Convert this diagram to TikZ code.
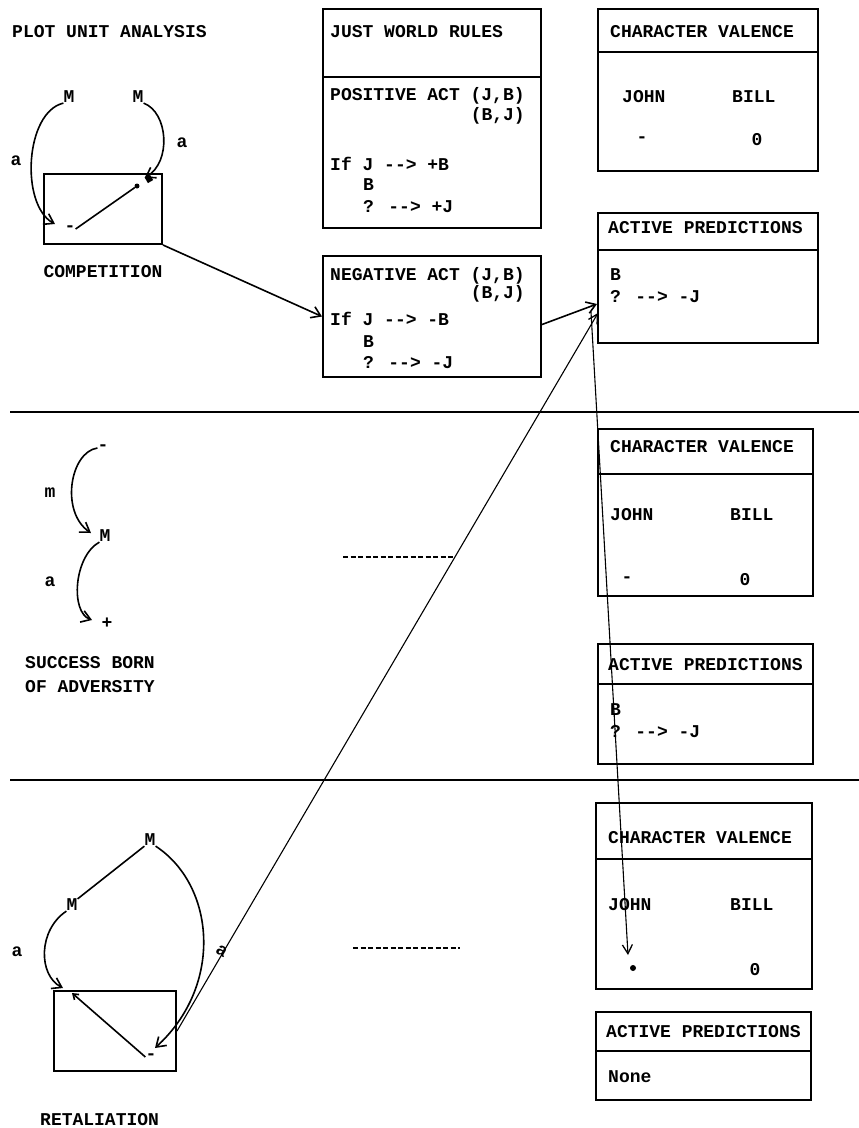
\documentclass[tikz,border=0pt]{standalone}
\usepackage{fontspec}
\newfontfamily\lmono{Liberation Mono}
\usetikzlibrary{arrows.meta}
\newcommand\myarr{{-}{-}>}
\newcommand\mydiv[2]{\draw[line width=2pt] ([yshift=-#2pt]#1.north west) -- ([yshift=-#2pt]#1.north east);}
\begin{document}
\begin{tikzpicture}[x=1pt,y=-1pt,
  box/.style={draw, line width=2pt, inner sep=0pt, anchor=north west},
  txt/.style={anchor=base west, inner sep=0pt, font=\lmono\bfseries\fontsize{18}{20}\selectfont},
  ctxt/.style={anchor=center, inner sep=0pt, font=\lmono\bfseries\fontsize{18}{20}\selectfont},
  conn/.style={line width=1.6pt, -{Straight Barb[length=9pt,width=12pt,line width=1.6pt]}},
  thinconn/.style={line width=1.1pt, -{Straight Barb[length=9pt,width=10pt,line width=1.3pt]}},
  lnk/.style={line width=1.6pt},
  sep/.style={line width=2pt},
  dsh/.style={line width=2pt, dash pattern=on 5pt off 2.5pt}]
\useasboundingbox (0,0) rectangle (859,1128);

% ---------- section separators ----------
\coordinate (s1a) at (10,412); \coordinate (s1b) at (859,412);
\coordinate (s2a) at (10,780); \coordinate (s2b) at (859,780);
\draw[sep] (s1a) -- (s1b);
\draw[sep] (s2a) -- (s2b);

% ---------- title ----------
\node[txt] (title) at (12,37) {PLOT UNIT ANALYSIS};

% ---------- competition ----------
\node[ctxt] (m1) at (69,97) {M};
\node[ctxt] (m2) at (138,97) {M};
\node[ctxt] (ca1) at (16,161) {a};
\node[ctxt] (ca2) at (182,143) {a};
\node[box, minimum width=118pt, minimum height=70pt] (comp) at (43,173) {};
\node[ctxt] (cmin) at (70,229) {-};
\node[fill, circle, inner sep=0pt, minimum size=5pt] (cdot) at (137,186) {};
\node[fill, inner sep=0pt, minimum size=6pt, rotate=30] (cplus) at (149,179) {};
\coordinate (cL) at (55,224);
\draw[conn] (m1.south west) .. controls (25,112) and (20,205) .. (cL);
\draw[conn] (m2.south east) .. controls (168,112) and (172,162) .. (cplus.north west);
\draw[lnk] (cmin.east) -- (cdot);
\node[ctxt] (comptxt) at (103,272) {COMPETITION};

% ---------- just world rules ----------
\node[box, minimum width=218pt, minimum height=219pt] (jwr) at (322,8) {};
\mydiv{jwr}{69}
\node[txt] (jwr1) at (330,37) {JUST WORLD RULES};
\node[txt] (jwr2) at (330,100) {POSITIVE ACT (J,B)};
\node[txt, anchor=base east] (jwr3) at (525,120) {(B,J)};
\node[txt] (jwr4) at (330,170) {If J \myarr{} +B};
\node[txt] (jwr5) at (363,190) {B};
\node[txt] (jwr6) at (363,212) {? \myarr{} +J};

\node[box, minimum width=218pt, minimum height=121pt] (neg) at (322,255) {};
\node[txt] (neg1) at (330,280) {NEGATIVE ACT (J,B)};
\node[txt, anchor=base east] (neg2) at (525,298) {(B,J)};
\node[txt] (neg3) at (330,325) {If J \myarr{} -B};
\node[txt] (neg4) at (363,347) {B};
\node[txt] (neg5) at (363,368) {? \myarr{} -J};

% ---------- first column of states ----------
\node[box, minimum width=220pt, minimum height=162pt] (cv1) at (597,8) {};
\mydiv{cv1}{44}
\node[txt] (cv1t) at (610,37) {CHARACTER VALENCE};
\node[txt] (cv1j) at (622,102) {JOHN};
\node[txt] (cv1b) at (732,102) {BILL};
\node[ctxt] (cv1jv) at (642,140) {-};
\node[ctxt] (cv1bv) at (757,140) {0};

\node[box, minimum width=220pt, minimum height=130pt] (ap1) at (597,212) {};
\mydiv{ap1}{38}
\node[txt] (ap1t) at (608,233) {ACTIVE PREDICTIONS};
\node[txt] (ap1a) at (610,280) {B};
\node[txt] (ap1b) at (610,302) {? \myarr{} -J};

% ---------- success born of adversity ----------
\node[ctxt] (sdash) at (103,448) {-};
\node[ctxt] (sm) at (50,493) {m};
\node[ctxt] (sM) at (105,536) {M};
\node[ctxt] (sa) at (50,582) {a};
\node[ctxt] (splus) at (107,623) {+};
\coordinate (sM_in) at (91,533);
\coordinate (sp_in) at (92,620);
\draw[conn] (sdash.west) .. controls (70,452) and (60,512) .. (sM_in);
\draw[conn] (sM.south west) .. controls (74,556) and (70,612) .. (sp_in);
\node[txt] (s1) at (25,668) {SUCCESS BORN};
\node[txt] (s2) at (25,692) {OF ADVERSITY};

\coordinate (d1a) at (343,557); \coordinate (d1b) at (453,557);
\draw[dsh] (d1a) -- (d1b);

\node[box, minimum width=215pt, minimum height=167pt] (cv2) at (597,428) {};
\mydiv{cv2}{46}
\node[txt] (cv2t) at (610,452) {CHARACTER VALENCE};
\node[txt] (cv2j) at (610,520) {JOHN};
\node[txt] (cv2b) at (730,520) {BILL};
\node[ctxt] (cv2jv) at (627,580) {-};
\node[ctxt] (cv2bv) at (745,580) {0};

\node[box, minimum width=215pt, minimum height=120pt] (ap2) at (597,643) {};
\mydiv{ap2}{41}
\node[txt] (ap2t) at (608,670) {ACTIVE PREDICTIONS};
\node[txt] (ap2a) at (610,715) {B};
\node[txt] (ap2b) at (610,737) {? \myarr{} -J};

% ---------- retaliation ----------
\node[ctxt] (rmt) at (150,840) {M};
\node[ctxt] (rml) at (72,905) {M};
\node[ctxt] (ra) at (17,952) {a};
\node[box, minimum width=122pt, minimum height=80pt] (ret) at (53,990) {};
\node[ctxt] (rmin) at (151,1057) {-};
\coordinate (rplus) at (72,993);
\coordinate (rL) at (63,988);
\coordinate (rM) at (155,1048);
\draw[lnk] (rmt.south west) -- (rml.north east);
\draw[conn] (rml.south west) .. controls (38,930) and (38,975) .. (rL);
\draw[conn] (rmt.south east) .. controls (215,885) and (224,985) .. (rM);
\draw[line width=1.6pt, -{Straight Barb[length=5pt,width=7pt]}] (rmin.west) -- (rplus);
\node[txt] (rtxt) at (40,1125) {RETALIATION};

\coordinate (d2a) at (353,948); \coordinate (d2b) at (460,948);
\draw[dsh] (d2a) -- (d2b);

\node[box, minimum width=216pt, minimum height=186pt] (cv3) at (595,802) {};
\mydiv{cv3}{57}
\node[txt] (cv3t) at (608,843) {CHARACTER VALENCE};
\node[txt] (cv3j) at (608,910) {JOHN};
\node[txt] (cv3b) at (730,910) {BILL};
\node[fill, circle, inner sep=0pt, minimum size=6pt] (cv3dot) at (633,968) {};
\node[ctxt] (cv3bv) at (755,970) {0};

\node[box, minimum width=215pt, minimum height=88pt] (ap3) at (595,1011) {};
\mydiv{ap3}{40}
\node[txt] (ap3t) at (606,1037) {ACTIVE PREDICTIONS};
\node[txt] (ap3a) at (608,1082) {None};

% ---------- cross connectors ----------
\coordinate (ap1in1) at (597,304);
\coordinate (ap1in2) at (598,313);
\coordinate (vstart) at (591,312);
\coordinate (dotin) at (628,955);
\draw[conn] (comp.south east) -- (neg.west);
\draw[conn] ([yshift=-8pt]neg.east) -- (ap1in1);
\draw[thinconn] (ret.east) -- (ap1in2) node[pos=0.11, sloped, font=\lmono\bfseries\fontsize{18}{20}\selectfont, inner sep=0pt, yshift=2pt, rotate=-90] (la) {a};
\draw[thinconn] (vstart) -- (dotin);
\end{tikzpicture}
\end{document}
